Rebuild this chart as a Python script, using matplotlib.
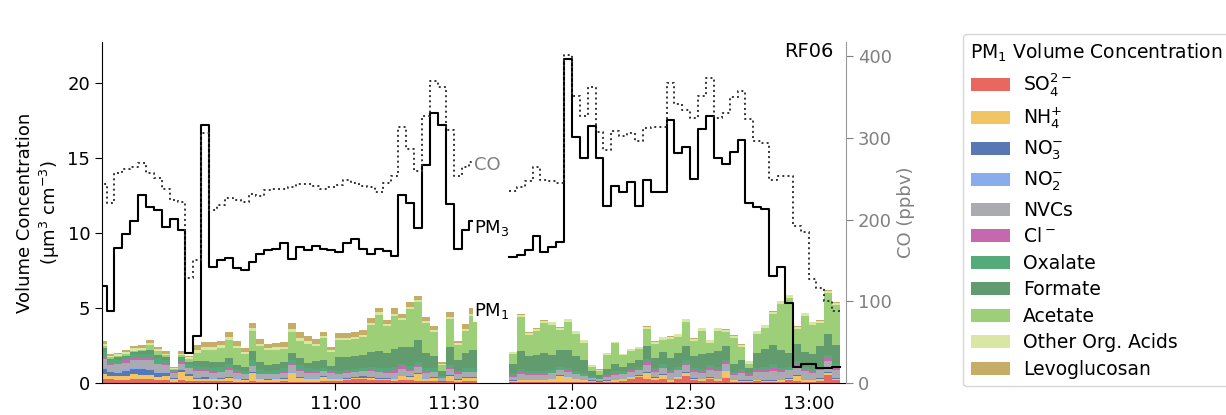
import numpy as np
import matplotlib.pyplot as plt
from matplotlib.patches import Patch

nan = np.nan

# RF06: 2-minute averages, time axis in minutes after 10:00
bin_edges = np.arange(0, 190, 2)
time_ticks = [30, 60, 90, 120, 150, 180]
time_labels = ['10:30', '11:00', '11:30', '12:00', '12:30', '13:00']

# PM3 volume concentration (um3 cm-3)
pm3 = [6.45, 4.8, 9.0, 9.9, 10.8, 12.5, 11.7, 11.5, 10.4, 10.9, 10.2, 2.0,
       3.1, 17.2, 7.7, 8.2, 8.35, 7.65, 7.5, 8.05, 8.6, 8.85, 8.95, 9.3, 8.25, 9.05, 8.85, 9.1, 8.95, 8.85,
       8.75, 9.3, 9.6, 8.9, 8.6, 8.9, 8.8, 8.45, 12.5, 12.0, 10.3, 14.5, 18.0, 17.2, 11.9, 8.9, 10.2, 10.8,
       nan, nan, nan, nan,
       8.4, 8.55, 8.85, 9.8, 8.7, 9.05, 9.4, 21.6, 16.4, 15.0,
       17.1, 15.0, 11.8, 13.1, 12.75, 13.4, 11.8,
       13.5, 12.75, 12.75, 17.5, 15.3, 15.75, 13.6, 16.9, 17.8, 15.0, 14.6, 15.4, 16.2, 12.0, 11.7, 11.6,
       7.1, 7.7, 5.3, 1.1, 1.3, 1.3, 1.0, 1.0, 1.05]

# CO (ppbv)
co = [244, 220, 257, 262, 265, 269, 257, 251, 237, 224, 221, 128,
      151, 306, 212, 218, 226, 224, 221, 231, 229, 236, 237, 237, 240, 244, 244, 241, 238, 240,
      242, 249, 245, 241, 240, 234, 245, 254, 314, 287, 259, 327, 370, 362, 310, 253, 265, 270,
      nan, nan, nan, nan,
      235, 240, 247, 264, 249, 247, 245, 402, 351, 327,
      362, 307, 285, 308, 302, 306, 296,
      312, 314, 314, 367, 342, 334, 325, 351, 374, 325, 330, 350, 357, 323, 296, 294,
      249, 254, 253, 192, 185, 127, 116, 100, 88]

# PM1 components (um3 cm-3)
so4 = [0.3, 0.25, 0.2, 0.2, 0.25, 0.25, 0.25, 0.2, 0.2, 0.1, 0.2, 0.15,
       0.15, 0.15, 0.15, 0.15, 0.15, 0.1, 0.1, 0.15, 0.1, 0.1, 0.1, 0.15, 0.1, 0.1, 0.1, 0.1, 0.15, 0.15,
       0.15, 0.2, 0.25, 0.25, 0.2, 0.2, 0.2, 0.15, 0.2, 0.2, 0.15, 0.15, 0.15, 0.05, 0.15, 0.1, 0.15, 0.15,
       0, 0, 0, 0,
       0.05, 0.05, 0.05, 0.05, 0.05, 0.05, 0.05, 0.05, 0.05, 0.05,
       0.05, 0.05, 0.1, 0.1, 0.15, 0.3, 0.4,
       0.3, 0.2, 0.25, 0.1, 0.3, 0.5, 0.2, 0.15, 0.25, 0.15, 0.35, 0.1, 0.1, 0.1, 0.15, 0.1,
       0.1, 0.1, 0.2, 0.15, 0.1, 0.1, 0.15, 0.55, 0.2]
nh4 = [0.3, 0.2, 0.25, 0.3, 0.35, 0.3, 0.3, 0.2, 0.25, 0.15, 0.55, 0.3,
       0.1, 0.15, 0.1, 0.15, 0.2, 0.15, 0.1, 0.55, 0.15, 0.1, 0.15, 0.15, 0.55, 0.25, 0.15, 0.15, 0.25, 0.1,
       0.1, 0.1, 0.1, 0.1, 0.15, 0.1, 0.1, 0.1, 0.25, 0.2, 0.45, 0.1, 0.2, 0.05, 0.35, 0.1, 0.2, 0.2,
       0, 0, 0, 0,
       0.1, 0.15, 0.15, 0.15, 0.15, 0.2, 0.45, 0.35, 0.2, 0.15,
       0.1, 0.05, 0.05, 0.1, 0.1, 0.1, 0.1,
       0.4, 0.15, 0.3, 0.1, 0.1, 0.2, 0.1, 0.1, 0.1, 0.1, 0.45, 0.1, 0.05, 0.05, 0.05, 0.05,
       0.05, 0.1, 0.1, 0.35, 0.1, 0.1, 0.15, 0.15, 0.1]
no3 = [0.35, 0.3, 0.25, 0.3, 0.35, 0.4, 0.35, 0.3, 0.25, 0.1, 0.15, 0.15,
       0.1, 0.1, 0.05, 0.05, 0.05, 0.05, 0.05, 0.05, 0.05, 0.05, 0.05, 0.05, 0.05, 0.05, 0.05, 0.05, 0.05, 0.05,
       0.05, 0.05, 0.05, 0.1, 0.05, 0.05, 0.05, 0.05, 0.05, 0.05, 0.05, 0.05, 0.05, 0.02, 0.05, 0.05, 0.05, 0.05,
       0, 0, 0, 0,
       0.02, 0.02, 0.02, 0.02, 0.02, 0.02, 0.02, 0.02, 0.02, 0.02,
       0.02, 0.02, 0.02, 0.02, 0.02, 0.02, 0.02,
       0.02, 0.02, 0.02, 0.02, 0.02, 0.02, 0.02, 0.02, 0.02, 0.02, 0.02, 0.02, 0.02, 0.02, 0.02, 0.02,
       0.02, 0.02, 0.02, 0.02, 0.02, 0.02, 0.02, 0.02, 0.02]
no2 = [0.05, 0.05, 0.05, 0.05, 0.05, 0.05, 0.05, 0.05, 0.05, 0.05, 0.05, 0.05,
       0.02, 0.02, 0.02, 0.02, 0.02, 0.02, 0.02, 0.02, 0.02, 0.02, 0.02, 0.02, 0.02, 0.02, 0.02, 0.02, 0.02, 0.02,
       0.02, 0.02, 0.02, 0.02, 0.02, 0.02, 0.02, 0.02, 0.02, 0.02, 0.02, 0.02, 0.02, 0.02, 0.02, 0.02, 0.02, 0.02,
       0, 0, 0, 0,
       0.02, 0.02, 0.02, 0.02, 0.02, 0.02, 0.02, 0.02, 0.02, 0.02,
       0.02, 0.02, 0.02, 0.02, 0.02, 0.02, 0.02,
       0.02, 0.02, 0.02, 0.02, 0.02, 0.02, 0.02, 0.02, 0.02, 0.02, 0.02, 0.02, 0.02, 0.02, 0.02, 0.02,
       0.02, 0.02, 0.02, 0.02, 0.02, 0.02, 0.02, 0.02, 0.02]
nvc = [0.6, 0.4, 0.5, 0.5, 0.5, 0.5, 0.55, 0.5, 0.45, 0.3, 0.35, 0.35,
       0.4, 0.35, 0.35, 0.35, 0.45, 0.35, 0.3, 0.35, 0.3, 0.3, 0.3, 0.3, 0.45, 0.4, 0.35, 0.35, 0.3, 0.35,
       0.3, 0.3, 0.3, 0.3, 0.35, 0.35, 0.3, 0.35, 0.4, 0.3, 0.4, 0.35, 0.3, 0.2, 0.35, 0.35, 0.3, 0.3,
       0, 0, 0, 0,
       0.2, 0.35, 0.3, 0.3, 0.3, 0.35, 0.3, 0.3, 0.3, 0.25,
       0.15, 0.1, 0.2, 0.3, 0.3, 0.3, 0.3,
       0.45, 0.35, 0.4, 0.4, 0.4, 0.45, 0.4, 0.4, 0.45, 0.5, 0.45, 0.3, 0.5, 0.3, 0.5, 0.55,
       0.6, 0.5, 0.5, 0.5, 0.55, 0.45, 0.5, 0.7, 0.55]
cl = [0.1, 0.1, 0.1, 0.15, 0.15, 0.15, 0.15, 0.1, 0.1, 0.05, 0.15, 0.1,
      0.1, 0.1, 0.1, 0.1, 0.1, 0.05, 0.1, 0.1, 0.05, 0.05, 0.05, 0.1, 0.1, 0.1, 0.1, 0.05, 0.05, 0.05,
      0.05, 0.05, 0.05, 0.05, 0.1, 0.1, 0.15, 0.25, 0.2, 0.15, 0.1, 0.15, 0.1, 0.05, 0.1, 0.1, 0.1, 0.1,
      0, 0, 0, 0,
      0.1, 0.15, 0.1, 0.1, 0.1, 0.05, 0.1, 0.1, 0.05, 0.05,
      0.05, 0.05, 0.05, 0.1, 0.1, 0.1, 0.1,
      0.2, 0.1, 0.1, 0.1, 0.1, 0.15, 0.1, 0.1, 0.2, 0.1, 0.1, 0.1, 0.1, 0.1, 0.1, 0.15,
      0.25, 0.1, 0.1, 0.3, 0.1, 0.1, 0.1, 0.3, 0.2]
oxalate = [0.35, 0.2, 0.2, 0.2, 0.25, 0.25, 0.3, 0.3, 0.25, 0.1, 0.2, 0.2,
           0.25, 0.2, 0.2, 0.25, 0.3, 0.2, 0.15, 0.3, 0.25, 0.2, 0.2, 0.2, 0.25, 0.3, 0.2, 0.2, 0.2, 0.15,
           0.15, 0.15, 0.15, 0.15, 0.2, 0.2, 0.15, 0.15, 0.15, 0.2, 0.2, 0.15, 0.15, 0.1, 0.15, 0.1, 0.15, 0.15,
           0, 0, 0, 0,
           0.15, 0.2, 0.15, 0.15, 0.15, 0.15, 0.15, 0.15, 0.15, 0.1,
           0.1, 0.05, 0.1, 0.15, 0.1, 0.1, 0.1,
           0.2, 0.15, 0.15, 0.15, 0.15, 0.2, 0.15, 0.15, 0.15, 0.15, 0.15, 0.1, 0.15, 0.1, 0.15, 0.15,
           0.2, 0.15, 0.15, 0.15, 0.15, 0.15, 0.2, 0.15, 0.15]
formate = [0.25, 0.1, 0.15, 0.1, 0.15, 0.2, 0.25, 0.2, 0.15, 0.05, 0.1, 0.1,
           0.35, 0.4, 0.45, 0.3, 0.4, 0.3, 0.25, 0.6, 0.45, 0.4, 0.4, 0.45, 0.5, 0.45, 0.35, 0.55, 0.5, 0.25,
           0.9, 0.85, 0.85, 0.9, 1.0, 1.1, 1.0, 1.2, 1.1, 1.3, 1.5, 1.0, 0.8, 0.3, 1.2, 0.7, 1.0, 1.2,
           0, 0, 0, 0,
           0.6, 1.2, 1.0, 1.1, 1.2, 1.0, 1.1, 1.2, 1.0, 0.9,
           0.3, 0.2, 0.4, 0.5, 0.3, 0.4, 0.5,
           0.9, 0.7, 0.8, 0.8, 0.9, 0.9, 0.8, 1.0, 0.8, 1.1, 0.9, 0.5, 0.6, 0.3, 1.0, 1.2,
           1.3, 1.2, 0.9, 1.1, 1.0, 1.0, 1.3, 1.4, 1.3]
acetate = [0.15, 0.1, 0.1, 0.1, 0.1, 0.1, 0.3, 0.3, 0.15, 0.05, 0.1, 0.2,
           0.55, 0.75, 0.8, 0.95, 1.2, 1.1, 0.85, 1.35, 1.1, 0.95, 0.95, 0.85, 1.4, 1.15, 1.3, 1.0, 1.45, 0.95,
           1.15, 1.15, 1.15, 1.2, 1.8, 2.4, 1.8, 2.2, 1.8, 2.5, 2.5, 2.0, 1.6, 0.4, 1.9, 1.0, 1.5, 2.3,
           0, 0, 0, 0,
           0.7, 2.25, 1.4, 1.55, 2.0, 2.05, 1.35, 1.9, 1.5, 1.15,
           0.3, 0.25, 0.95, 1.35, 0.75, 0.8, 0.75,
           1.1, 0.9, 0.85, 1.25, 1.1, 1.65, 1.0, 1.55, 0.7, 1.35, 0.95, 1.75, 0.85, 0.3, 1.3, 1.45,
           2.05, 3.1, 3.7, 1.0, 2.45, 1.95, 1.55, 2.7, 2.65]
other_acids = [0.15, 0.1, 0.1, 0.15, 0.15, 0.15, 0.15, 0.1, 0.1, 0.05, 0.1, 0.1,
               0.2, 0.2, 0.2, 0.2, 0.2, 0.15, 0.15, 0.2, 0.15, 0.15, 0.15, 0.15, 0.2, 0.2, 0.2, 0.15, 0.15, 0.1,
               0.15, 0.15, 0.15, 0.15, 0.15, 0.2, 0.15, 0.15, 0.15, 0.15, 0.15, 0.15, 0.15, 0.1, 0.15, 0.15, 0.15, 0.15,
               0, 0, 0, 0,
               0.1, 0.15, 0.15, 0.15, 0.15, 0.15, 0.15, 0.15, 0.15, 0.15,
               0.1, 0.1, 0.1, 0.1, 0.1, 0.1, 0.1,
               0.15, 0.15, 0.15, 0.15, 0.15, 0.15, 0.15, 0.15, 0.15, 0.15, 0.15, 0.15, 0.15, 0.15, 0.15, 0.15,
               0.15, 0.15, 0.15, 0.15, 0.15, 0.15, 0.15, 0.15, 0.15]
levoglucosan = [0.2, 0.1, 0.1, 0.15, 0.15, 0.2, 0.2, 0.15, 0.15, 0.05, 0.15, 0.1,
                0.3, 0.3, 0.3, 0.3, 0.35, 0.3, 0.25, 0.35, 0.3, 0.3, 0.3, 0.3, 0.4, 0.35, 0.3, 0.3, 0.3, 0.25,
                0.3, 0.3, 0.3, 0.3, 0.3, 0.3, 0.3, 0.35, 0.3, 0.3, 0.3, 0.3, 0.3, 0.1, 0.3, 0.15, 0.3, 0.4,
                0, 0, 0, 0,
                0.05, 0.05, 0.05, 0.05, 0.05, 0.05, 0.05, 0.05, 0.05, 0.05,
                0.02, 0.02, 0.02, 0.02, 0.02, 0.02, 0.02,
                0.05, 0.05, 0.05, 0.05, 0.05, 0.05, 0.05, 0.05, 0.05, 0.05, 0.05, 0.05, 0.05, 0.05, 0.05, 0.05,
                0.05, 0.05, 0.05, 0.05, 0.05, 0.05, 0.05, 0.05, 0.05]

components = [so4, nh4, no3, no2, nvc, cl, oxalate, formate, acetate, other_acids, levoglucosan]
labels = ['SO$_4^{2-}$', 'NH$_4^{+}$', 'NO$_3^{-}$', 'NO$_2^{-}$', 'NVCs', 'Cl$^-$',
          'Oxalate', 'Formate', 'Acetate', 'Other Org. Acids', 'Levoglucosan']
colors = ['#e8675e', '#f1c464', '#5877b3', '#88acec', '#aaabb0', '#c668ad',
          '#55aa7a', '#629c6e', '#9ccf78', '#d8e7a3', '#c5ad68']

plt.rcParams['font.family'] = 'DejaVu Sans'
fig = plt.figure(figsize=(12.26, 4.15), dpi=100)
ax = fig.add_axes([0.0832, 0.0771, 0.6069, 0.8217])
ax2 = ax.twinx()

# stacked PM1 composition
bottom = np.zeros(len(so4))
for vals, col in zip(components, colors):
    top = bottom + np.array(vals)
    ax.stairs(top, bin_edges, baseline=bottom, fill=True, color=col, lw=0, zorder=1)
    bottom = top

# PM3 and CO step lines
ax.step(bin_edges, np.append(pm3, pm3[-1]), where='post', color='black', lw=1.5, zorder=3)
ax2.step(bin_edges, np.append(co, co[-1]), where='post', color='#333333', ls=':', lw=1.4)

ax.set_xlim(0.85, 189.5)
ax.set_ylim(0, 22.73)
ax2.set_ylim(0, 417.5)
ax.set_xticks(time_ticks)
ax.set_xticklabels(time_labels)
ax.set_yticks([0, 5, 10, 15, 20])
ax2.set_yticks([0, 100, 200, 300, 400])

ax.set_ylabel('Volume Concentration\n(µm$^3$ cm$^{-3}$)', fontsize=13)
ax2.set_ylabel('CO (ppbv)', fontsize=13, color='#808080')
ax.tick_params(labelsize=13, length=5, direction='out')
ax2.tick_params(labelsize=13, length=5, direction='out', colors='#808080')

for s in ['top', 'right']:
    ax.spines[s].set_visible(False)
for s in ['top', 'left', 'bottom']:
    ax2.spines[s].set_visible(False)
ax2.spines['right'].set_color('#999999')

# inline labels
box = dict(facecolor='white', edgecolor='none', pad=1)
ax2.text(95.2, 14.5, 'CO', transform=ax.transData, color='#808080', fontsize=13,
         va='center', ha='left', bbox=box)
ax2.text(95.2, 10.3, 'PM$_3$', transform=ax.transData, color='black', fontsize=13,
         va='center', ha='left', bbox=box)
ax2.text(95.2, 4.8, 'PM$_1$', transform=ax.transData, color='black', fontsize=13,
         va='center', ha='left', bbox=box)

ax.text(0.983, 1.0, 'RF06', transform=ax.transAxes, ha='right', va='top', fontsize=14)

handles = [Patch(facecolor=c, edgecolor='none', label=l) for c, l in zip(colors, labels)]
fig.legend(handles=handles, loc='upper left', bbox_to_anchor=(963 / 1226, 1 - 34 / 415),
           borderaxespad=0, title='PM$_1$ Volume Concentration', title_fontsize=13.5,
           fontsize=13.5, alignment='left', handlelength=2.1, handleheight=0.7,
           handletextpad=0.7, labelspacing=0.4, borderpad=0.4, edgecolor='#cccccc')

fig.savefig('out.png', dpi=100)
